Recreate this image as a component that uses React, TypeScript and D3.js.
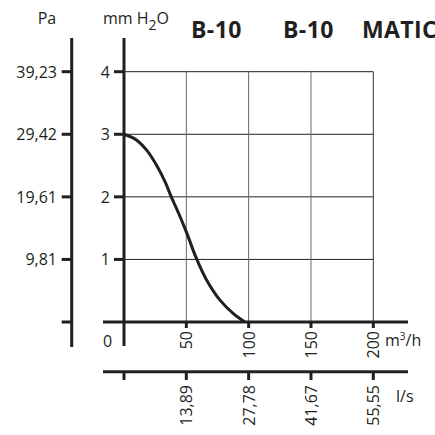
import React from "react";
import * as d3 from "d3";

const flowM3h = [0, 50, 100, 150, 200];
const flowLs = ["", "13,89", "27,78", "41,67", "55,55"];
const pressMm = [0, 1, 2, 3, 4];
const pressPa = ["", "9,81", "19,61", "29,42", "39,23"];
const curveQ = [0, 10, 18, 26, 33, 37.5, 44, 50, 58, 66, 77, 88, 97];
const curveP = [3, 2.91, 2.75, 2.51, 2.24, 2.02, 1.73, 1.44, 1.02, 0.68, 0.35, 0.13, 0];
const titles = [
  { text: "B-10", x: 191 },
  { text: "B-10", x: 283 },
  { text: "MATIC", x: 362 },
];

const INK = "#231f20";
const FONT = "'Open Sans', 'Noto Sans', sans-serif";

export default function App() {
  const x = d3.scaleLinear().domain([0, 200]).range([124, 373.3]);
  const y = d3.scaleLinear().domain([0, 4]).range([322, 71.7]);
  const pts: [number, number][] = curveQ.map((q, i) => [q, curveP[i]]);
  const line = d3
    .line<[number, number]>()
    .x((d) => x(d[0]))
    .y((d) => y(d[1]))
    .curve(d3.curveCatmullRom.alpha(0.5));
  const paX = 71.7;
  const mainX = x(0);
  const axis2Y = 371.7;

  return (
    <svg
      width={435}
      height={435}
      style={{ position: "absolute", left: 0, top: 0, background: "#fff" }}
      fontFamily={FONT}
    >
      <rect width={435} height={435} fill="#fff" />
      {/* grid */}
      {pressMm.slice(1).map((v) => (
        <line key={"h" + v} x1={mainX} x2={x(200)} y1={y(v)} y2={y(v)} stroke={INK} strokeWidth={1} />
      ))}
      {flowM3h.slice(1).map((v) => (
        <line
          key={"v" + v}
          x1={x(v)}
          x2={x(v)}
          y1={y(4)}
          y2={y(0)}
          stroke={v === 200 ? "#333" : "#666"}
          strokeWidth={1}
        />
      ))}
      {/* curve */}
      <path d={line(pts) || ""} fill="none" stroke={INK} strokeWidth={3} />

      {/* main y axis */}
      <line x1={mainX} x2={mainX} y1={38} y2={346} stroke={INK} strokeWidth={3} />
      {pressMm.slice(1).map((v) => (
        <g key={"yt" + v}>
          <line x1={114} x2={mainX} y1={y(v)} y2={y(v)} stroke={INK} strokeWidth={3} />
          <text x={110} y={y(v) + 6} textAnchor="end" fontSize={16} fill={INK}>
            {v}
          </text>
        </g>
      ))}
      <text x={103} y={347} fontSize={16} fill={INK}>
        0
      </text>

      {/* Pa axis */}
      <line x1={paX} x2={paX} y1={38} y2={347} stroke={INK} strokeWidth={3} />
      {pressMm.map((v, i) => (
        <g key={"pt" + v}>
          <line x1={61.7} x2={paX} y1={y(v)} y2={y(v)} stroke={INK} strokeWidth={3} />
          <text x={57} y={y(v) + 6} textAnchor="end" fontSize={16} fill={INK}>
            {pressPa[i]}
          </text>
        </g>
      ))}

      {/* unit labels */}
      <text x={47} y={24} textAnchor="middle" fontSize={16} fill={INK}>
        Pa
      </text>
      <text x={103} y={24} fontSize={16} fill={INK}>
        mm H
        <tspan fontSize={14} dy={6}>
          2
        </tspan>
        <tspan dy={-6}>O</tspan>
      </text>

      {/* titles */}
      {titles.map((t, i) => (
        <text key={"t" + i} x={t.x} y={38} fontSize={23} fontWeight={700} letterSpacing={0.4} fill={INK}>
          {t.text}
        </text>
      ))}

      {/* x axis m3/h */}
      <line x1={103} x2={408} y1={y(0)} y2={y(0)} stroke={INK} strokeWidth={3} />
      {flowM3h.slice(1).map((v) => (
        <g key={"xt" + v}>
          <line x1={x(v)} x2={x(v)} y1={y(0)} y2={328} stroke={INK} strokeWidth={3} />
          <text
            transform={`translate(${x(v) + 6},331) rotate(-90)`}
            textAnchor="end"
            fontSize={16}
            fill={INK}
          >
            {v}
          </text>
        </g>
      ))}
      <text x={385} y={346} fontSize={16} fill={INK}>
        m
        <tspan fontSize={10} dy={-6}>
          3
        </tspan>
        <tspan dy={6}>/h</tspan>
      </text>

      {/* x axis l/s */}
      <line x1={103} x2={408} y1={axis2Y} y2={axis2Y} stroke={INK} strokeWidth={3} />
      {flowM3h.map((v, i) => (
        <g key={"lt" + v}>
          <line x1={x(v)} x2={x(v)} y1={axis2Y} y2={380} stroke={INK} strokeWidth={3} />
          <text
            transform={`translate(${x(v) + 6},385) rotate(-90)`}
            textAnchor="end"
            fontSize={16}
            fill={INK}
          >
            {flowLs[i]}
          </text>
        </g>
      ))}
      <text x={396} y={402} fontSize={16} fill={INK}>
        l/s
      </text>
    </svg>
  );
}
